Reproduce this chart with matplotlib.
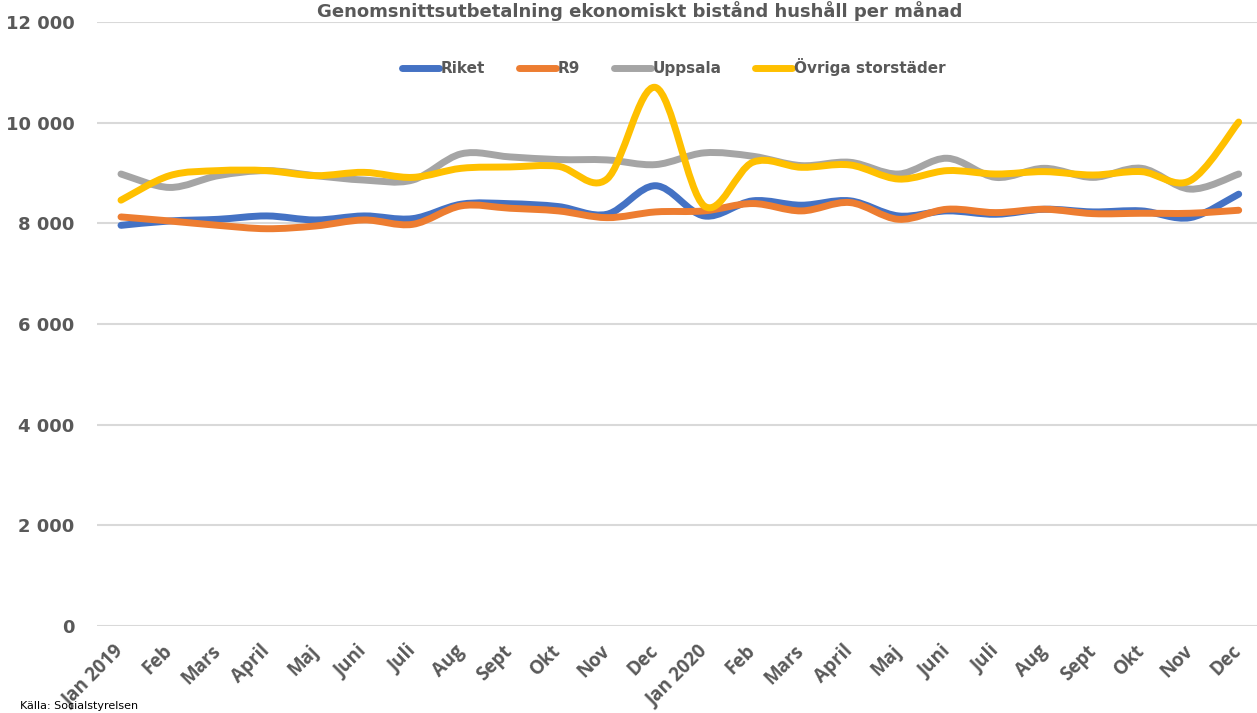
import matplotlib
matplotlib.use("Agg")
import matplotlib.pyplot as plt
from matplotlib.path import Path
from matplotlib.patches import PathPatch
from matplotlib.lines import Line2D
from matplotlib.ticker import FuncFormatter
import numpy as np

months = ["Jan 2019", "Feb", "Mars", "April", "Maj", "Juni", "Juli", "Aug", "Sept", "Okt", "Nov", "Dec",
          "Jan 2020", "Feb", "Mars", "April", "Maj", "Juni", "Juli", "Aug", "Sept", "Okt", "Nov", "Dec"]

riket = [7960, 8047, 8080, 8147, 8067, 8147, 8093, 8380, 8390, 8333, 8180, 8747,
         8147, 8447, 8360, 8447, 8147, 8247, 8180, 8280, 8227, 8247, 8113, 8580]
r9 = [8127, 8047, 7960, 7893, 7947, 8067, 7980, 8347, 8300, 8247, 8113, 8227,
      8247, 8393, 8247, 8413, 8080, 8280, 8213, 8280, 8193, 8200, 8200, 8260]
uppsala = [8980, 8713, 8947, 9047, 8947, 8860, 8860, 9380, 9320, 9267, 9260, 9167,
           9400, 9333, 9147, 9213, 8980, 9293, 8913, 9093, 8913, 9093, 8680, 8980]
ovriga = [8460, 8947, 9047, 9047, 8947, 9013, 8913, 9093, 9120, 9133, 8880, 10700,
          8347, 9213, 9113, 9160, 8880, 9047, 8980, 9027, 8960, 9027, 8847, 10013]

series = [("Riket", riket, "#4472C4"), ("R9", r9, "#ED7D31"),
          ("Uppsala", uppsala, "#A5A5A5"), ("Övriga storstäder", ovriga, "#FFC000")]

title = "Genomsnittsutbetalning ekonomiskt bistånd hushåll per månad"
source = "Källa: Socialstyrelsen"

W, H = 1257, 713
fig = plt.figure(figsize=(W / 100, H / 100), dpi=100)
ax = fig.add_axes([96.7 / W, 87 / H, (1263 - 96.7) / W, (691 - 87) / H])


def smooth_path(xs, ys):
    pts = np.column_stack([xs, ys]).astype(float)
    n = len(pts)
    verts = [pts[0]]
    codes = [Path.MOVETO]
    for i in range(n - 1):
        p0 = pts[i - 1] if i > 0 else pts[i]
        p1 = pts[i]
        p2 = pts[i + 1]
        p3 = pts[i + 2] if i + 2 < n else pts[i + 1]
        c1 = p1 + (p2 - p0) / 6.0
        c2 = p2 - (p3 - p1) / 6.0
        verts += [c1, c2, p2]
        codes += [Path.CURVE4] * 3
    return Path(verts, codes)


xs = np.arange(len(months))
for name, vals, col in series:
    patch = PathPatch(smooth_path(xs, vals), facecolor="none", edgecolor=col,
                      lw=5, capstyle="round", joinstyle="round", zorder=3)
    ax.add_patch(patch)

ax.set_xlim(-0.5, len(months) - 0.5)
ax.set_ylim(0, 12000)
ax.set_yticks(np.arange(0, 12001, 2000))
ax.yaxis.set_major_formatter(FuncFormatter(lambda v, p: f"{int(v):,}".replace(",", " ")))
ax.grid(axis="y", color="#D9D9D9", lw=1.5, zorder=0)
ax.set_axisbelow(True)
for s in ax.spines.values():
    s.set_visible(False)
ax.tick_params(axis="y", length=0, pad=16, labelsize=13, labelcolor="#595959")
for lab in ax.get_yticklabels():
    lab.set_fontweight("bold")

ax.set_xticks(xs)
ax.set_xticklabels(months, rotation=45, ha="right", va="center", rotation_mode="anchor",
                   fontsize=13.5, fontweight="bold", color="#595959", family="Open Sans")
ax.tick_params(axis="x", length=0, pad=16)

handles = [Line2D([0], [0], color=c, lw=5, solid_capstyle="round") for _, _, c in series]
fig.legend(handles, [n for n, _, _ in series], loc="center", ncol=4,
           bbox_to_anchor=(674 / W, 1 - 67 / H), frameon=False,
           prop={"weight": "bold", "size": 11}, labelcolor="#595959",
           handlelength=2.4, handletextpad=0.15, columnspacing=2.2)

fig.text(640 / W, 1 - 17 / H, title, ha="center", va="baseline", fontsize=13,
         fontweight="bold", color="#595959")
fig.text(20 / W, 1 - 709 / H, source, ha="left", va="baseline", fontsize=8, color="black")

fig.savefig("out.png", dpi=100)
